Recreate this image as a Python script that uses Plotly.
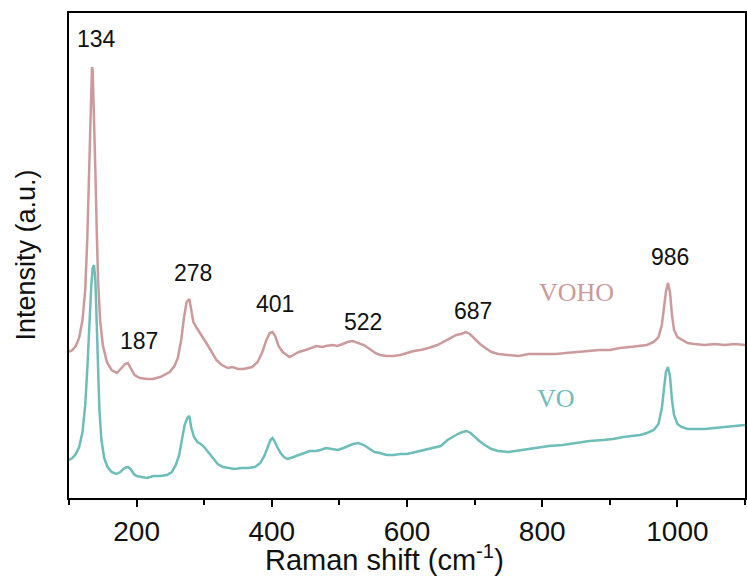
import plotly.graph_objects as go

# Raman shift (cm^-1) and intensities (a.u.)
voho_shift = [100,105,110,115,120,124,127,129,131,133,
              134,135,137,139,141,143,146,150,156,163,
              171,178,183,187,191,197,205,215,224,235,
              249,256,261,266,270,274,278,281,284,289,
              294,298,305,312,318,326,335,342,350,358,
              371,379,386,392,397,401,405,410,416,420,
              426,432,440,450,460,466,475,480,490,497,
              505,512,520,528,536,545,553,560,570,580,
              590,600,610,620,632,645,657,666,673,680,
              687,693,700,708,716,725,735,750,765,780,
              800,820,835,850,870,885,900,915,930,945,
              955,965,972,977,980,983,986,989,992,995,
              1000,1008,1015,1025,1040,1055,1070,1085,1100]
voho_int = [146,148,152,160,178,208,258,308,368,418,
            431,428,388,328,268,218,178,153,136,128,
            125,130,134,135,130,123,120,119,119,121,
            126,132,140,158,180,196,199,188,176,170,
            165,161,153,145,138,133,130,131,129,129,
            131,136,146,158,165,166,162,152,146,144,
            141,143,146,148,151,152,151,152,153,152,
            154,156,157,155,153,149,145,143,142,142,
            143,145,147,148,150,153,157,160,163,164,
            166,164,159,154,150,146,144,143,142,144,
            144,144,145,146,147,148,148,150,151,152,
            153,156,161,173,188,206,215,206,183,168,
            161,158,155,154,153,154,153,154,153]

vo_shift = [100,105,110,115,120,124,127,130,133,135,
            137,139,141,143,145,148,152,157,163,170,
            176,182,187,191,196,200,206,215,225,235,
            245,252,258,263,267,271,275,278,281,285,
            290,295,300,307,313,320,328,337,345,355,
            365,375,383,389,394,398,401,404,408,413,
            418,423,428,433,440,448,456,465,472,480,
            490,498,506,514,520,528,536,545,552,560,
            570,580,590,600,612,625,638,650,660,667,
            675,682,688,694,700,707,715,725,735,750,
            770,790,810,830,850,870,890,905,920,935,
            945,955,965,972,977,980,983,986,989,992,
            995,1000,1006,1015,1025,1040,1055,1070,1085,1100]
vo_int = [38,40,44,51,66,93,128,178,213,230,
          233,218,178,128,88,58,40,31,26,24,
          26,30,31,29,24,22,21,20,22,22,
          23,26,33,43,58,73,80,82,70,61,
          56,54,51,45,39,34,31,30,29,30,
          30,31,35,42,52,58,60,57,51,45,
          41,39,40,41,43,45,47,47,48,50,
          49,48,50,52,54,55,53,49,46,45,
          43,43,44,44,46,48,50,52,58,61,
          64,66,67,65,61,57,53,49,47,46,
          48,50,52,53,55,57,58,59,61,62,
          63,65,68,74,90,108,126,131,122,98,
          83,74,71,69,69,69,70,71,72,73]

peak_labels = ["134", "187", "278", "401", "522", "687", "986"]
label_x = [140, 203, 283, 405, 535, 697, 989]
label_y = [459, 157, 225, 194, 176, 187, 241]

series_names = ["VOHO", "VO"]
series_colors = ["#cc9a9b", "#6dbdb9"]
name_x = [851, 821]
name_y = [206, 100]

fig = go.Figure()
fig.add_trace(go.Scatter(x=voho_shift, y=voho_int, mode="lines",
                         line=dict(color=series_colors[0], width=2.5), showlegend=False))
fig.add_trace(go.Scatter(x=vo_shift, y=vo_int, mode="lines",
                         line=dict(color=series_colors[1], width=2.5), showlegend=False))

annotations = []
for t, x, y in zip(peak_labels, label_x, label_y):
    annotations.append(dict(x=x, y=y, xref="x", yref="y", text=t, showarrow=False,
                            font=dict(family="Liberation Sans, Arial", size=23, color="#111111")))
for t, c, x, y in zip(series_names, series_colors, name_x, name_y):
    annotations.append(dict(x=x, y=y, xref="x", yref="y", text=t, showarrow=False,
                            font=dict(family="Liberation Serif, Times New Roman", size=26, color=c)))
annotations.append(dict(x=0.466, y=-0.123, xref="paper", yref="paper",
                        xanchor="center", yanchor="middle",
                        text="Raman shift (cm<sup>-1</sup>)", showarrow=False,
                        font=dict(family="Liberation Sans, Arial", size=29, color="#111111")))
annotations.append(dict(x=-0.065, y=0.5, xref="paper", yref="paper", textangle=-90,
                        xanchor="center", yanchor="middle",
                        text="Intensity (a.u.)", showarrow=False,
                        font=dict(family="Liberation Sans, Arial", size=27, color="#111111")))

fig.update_layout(
    width=747, height=581,
    margin=dict(l=69, r=0, t=13, b=83),
    plot_bgcolor="white", paper_bgcolor="white",
    annotations=annotations,
    xaxis=dict(range=[100, 1100], showline=True, linecolor="black", linewidth=2,
               mirror=True, ticks="outside", ticklen=7, tickwidth=2, tickcolor="black",
               tickvals=[200, 400, 600, 800, 1000], showgrid=False, zeroline=False,
               tickfont=dict(family="Liberation Sans, Arial", size=28, color="#111111"),
               minor=dict(tickvals=[100, 300, 500, 700, 900, 1100], ticks="outside",
                          ticklen=5, tickwidth=2, tickcolor="black", showgrid=False)),
    yaxis=dict(range=[0, 485], showline=True, linecolor="black", linewidth=2,
               mirror=True, showticklabels=False, ticks="", showgrid=False, zeroline=False),
)

fig.write_html("out.html")
